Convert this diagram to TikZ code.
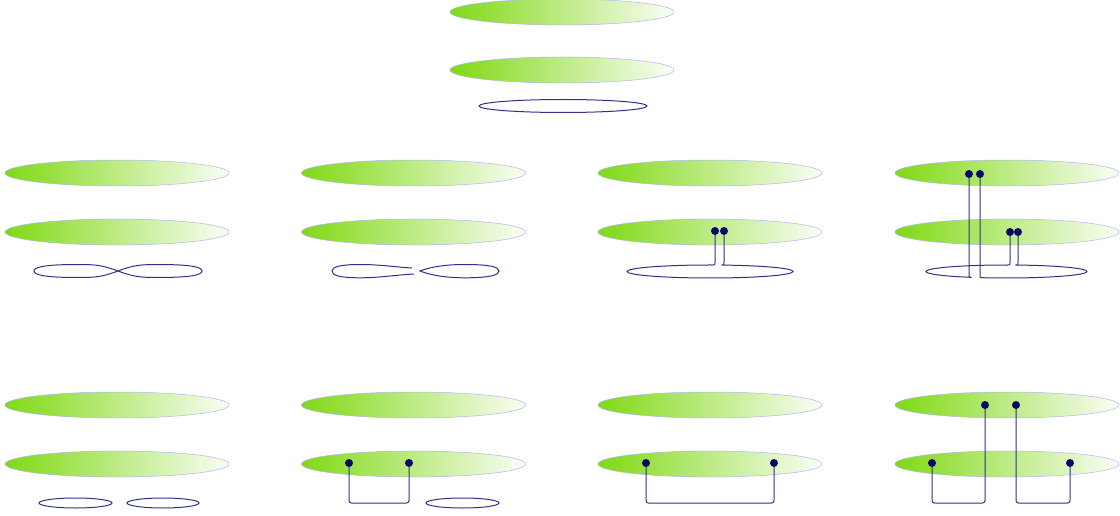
\documentclass[tikz,border=0pt]{standalone}
\definecolor{lgreen}{RGB}{128,217,20}
\definecolor{rimc}{RGB}{176,180,240}
\definecolor{wirec}{RGB}{48,48,140}
\definecolor{dotc}{RGB}{10,10,100}
\tikzset{
  sheet/.style={left color=lgreen, right color=white!96!lgreen, draw=rimc, line width=0.5pt},
  wire/.style={draw=wirec, line width=1pt},
  wirer/.style={wire, rounded corners=2.5pt},
  dotn/.style={circle, fill=dotc, inner sep=0pt, minimum size=8pt}
}
\newcommand{\twosheets}[3]{%
  \path[sheet] (#1,#2) ellipse [x radius=112, y radius=13];
  \path[sheet] (#1,#3) ellipse [x radius=112, y radius=13];}
\begin{document}
\begin{tikzpicture}[x=1pt,y=-1pt]
\useasboundingbox (0,0) rectangle (1120,516);
% top panel
\twosheets{562}{12}{70}
\draw[wire] (563,106) ellipse [x radius=84, y radius=6.5];
% row 2
\twosheets{117}{173}{232}
\twosheets{413.5}{173}{232}
\twosheets{710}{173}{232}
\twosheets{1007}{173}{232}
% row 3
\twosheets{117}{405}{464}
\twosheets{413.5}{405}{464}
\twosheets{710}{405}{464}
\twosheets{1007}{405}{464}

% row 2 panel 1: figure eight
\draw[wire] (118,271) .. controls (102,265) and (95,264.5) .. (78,264.5)
  .. controls (45,264.5) and (34,267) .. (34,271)
  .. controls (34,275) and (45,277.5) .. (78,277.5)
  .. controls (95,277.5) and (102,277) .. (118,271)
  .. controls (134,265) and (141,264.5) .. (158,264.5)
  .. controls (191,264.5) and (202,267) .. (202,271)
  .. controls (202,275) and (191,277.5) .. (158,277.5)
  .. controls (141,277.5) and (134,277) .. (118,271) -- cycle;

% row 2 panel 2: split loop
\draw[wire] (412,268) .. controls (395,267) and (380,264.5) .. (360,264.5)
  .. controls (340,264.5) and (332,267) .. (332,271)
  .. controls (332,275.5) and (340,277.8) .. (360,277.8)
  .. controls (380,277.8) and (395,275) .. (414,274);
\draw[wire] (420,271) .. controls (430,267) and (445,264.5) .. (465,264.5)
  .. controls (490,264.5) and (499,267) .. (499,271)
  .. controls (499,275) and (490,277.8) .. (465,277.8)
  .. controls (445,277.8) and (430,275) .. (420,271) -- cycle;

% row 2 panel 3
\coordinate (a1) at (715,231);
\coordinate (a2) at (724,231);
\draw[wire] (a1) -- (715,262.5) .. controls (715,265) .. (712.5,265)
  arc[start angle=-88.3, end angle=-442.03, x radius=83, y radius=6.5]
  .. controls (724,265.06) .. (724,262.5) -- (a2);
\node[dotn] (A1) at (a1) {};
\node[dotn] (A2) at (a2) {};

% row 2 panel 4
\coordinate (b1) at (969,174);
\coordinate (b2) at (980,174);
\coordinate (b3) at (1010,232);
\coordinate (b4) at (1018,232);
\draw[wire] (b3) -- (1010,262.5) .. controls (1010,265) .. (1007.5,265)
  arc[start angle=-89.3, end angle=-244.2, x radius=80.5, y radius=6.5]
  .. controls (969,277.35) .. (969,274.85) -- (b1);
\draw[wire] (b2) -- (980,275.2) .. controls (980,277.7) .. (982.5,277.7)
  arc[start angle=107.35, end angle=-83.58, x radius=80.5, y radius=6.5]
  .. controls (1018,265.04) .. (1018,262.5) -- (b4);
\node[dotn] (B1) at (b1) {};
\node[dotn] (B2) at (b2) {};
\node[dotn] (B3) at (b3) {};
\node[dotn] (B4) at (b4) {};

% row 3 panel 1
\draw[wire] (75.5,503) ellipse [x radius=36.5, y radius=5];
\draw[wire] (163,503) ellipse [x radius=36, y radius=5];

% row 3 panel 2
\coordinate (c1) at (349,463);
\coordinate (c2) at (409,463);
\draw[wirer] (c1) -- (c1 |- 0,503) -- (c2 |- 0,503) -- (c2);
\node[dotn] (C1) at (c1) {};
\node[dotn] (C2) at (c2) {};
\draw[wire] (462.5,503) ellipse [x radius=36.5, y radius=5];

% row 3 panel 3
\coordinate (e1) at (646,463);
\coordinate (e2) at (774,463);
\draw[wirer] (e1) -- (e1 |- 0,503) -- (e2 |- 0,503) -- (e2);
\node[dotn] (E1) at (e1) {};
\node[dotn] (E2) at (e2) {};

% row 3 panel 4
\coordinate (f1) at (932,463);
\coordinate (f2) at (1070,463);
\coordinate (f3) at (985,405);
\coordinate (f4) at (1016,405);
\draw[wirer] (f1) -- (f1 |- 0,503) -- (f3 |- 0,503) -- (f3);
\draw[wirer] (f4) -- (f4 |- 0,503) -- (f2 |- 0,503) -- (f2);
\node[dotn] (F1) at (f1) {};
\node[dotn] (F2) at (f2) {};
\node[dotn] (F3) at (f3) {};
\node[dotn] (F4) at (f4) {};
\end{tikzpicture}
\end{document}
